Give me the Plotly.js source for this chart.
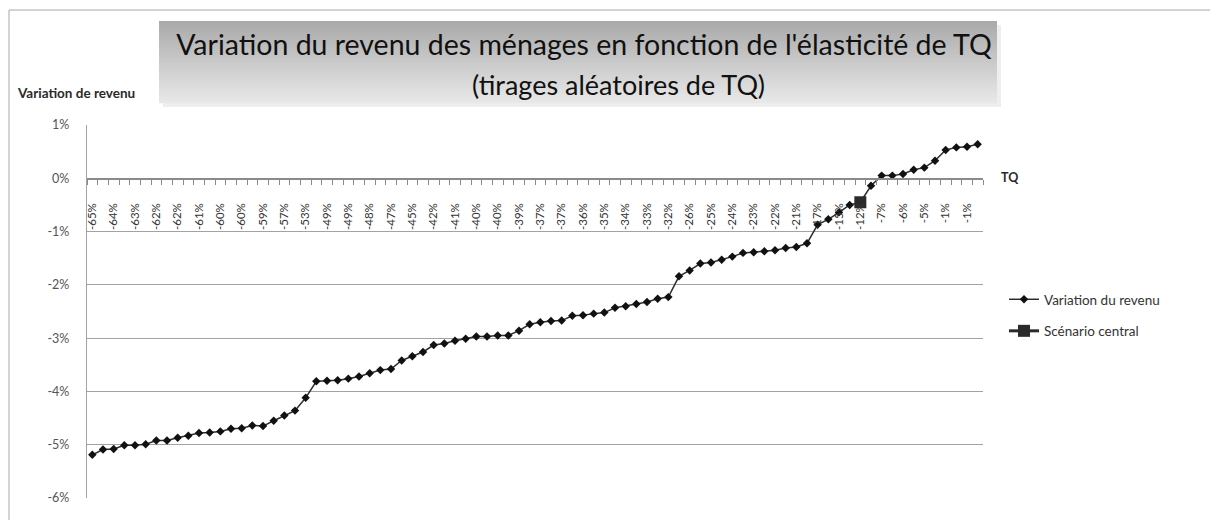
<!DOCTYPE html>
<html><head><meta charset="utf-8">
<script src="https://cdn.plot.ly/plotly-3.0.1.min.js"></script>
<style>html,body{margin:0;padding:0;background:#fff;} #chart{width:1210px;height:520px;}</style>
</head><body><div id="chart"></div>
<script>
// ---- data (values in %) ----
const revenueVariation = [
  -5.19,-5.09,-5.08,-5.01,-5.01,-4.99,-4.92,-4.92,-4.87,-4.83,
  -4.78,-4.77,-4.75,-4.70,-4.69,-4.64,-4.65,-4.55,-4.45,-4.36,
  -4.12,-3.81,-3.80,-3.79,-3.76,-3.72,-3.66,-3.60,-3.58,-3.42,
  -3.34,-3.26,-3.13,-3.10,-3.05,-3.01,-2.97,-2.97,-2.95,-2.95,
  -2.86,-2.74,-2.70,-2.68,-2.67,-2.58,-2.57,-2.54,-2.52,-2.43,
  -2.40,-2.36,-2.32,-2.26,-2.23,-1.84,-1.73,-1.60,-1.58,-1.53,
  -1.47,-1.40,-1.39,-1.37,-1.35,-1.31,-1.29,-1.22,-0.87,-0.77,
  -0.64,-0.50,-0.45,-0.14,0.05,0.05,0.08,0.16,0.20,0.33,
  0.53,0.58,0.59,0.64
];
const tqLabels = [
  '-65%','-64%','-63%','-62%','-62%','-61%','-60%','-60%','-59%','-57%',
  '-53%','-49%','-49%','-48%','-47%','-45%','-42%','-41%','-40%','-40%',
  '-39%','-37%','-37%','-36%','-35%','-34%','-33%','-32%','-26%','-25%',
  '-24%','-23%','-22%','-21%','-17%','-15%','-12%','-7%','-6%','-5%',
  '-1%','-1%'
];
const labelStep = 2;                 // one label every 2 draws
const centralScenarioIndex = [72];
const centralScenarioValue = [-0.45];
const yTickValues = [1, 0, -1, -2, -3, -4, -5, -6];
const yTickText = ['1%', '0%', '-1%', '-2%', '-3%', '-4%', '-5%', '-6%'];

// ---- layout helpers (pixel -> paper) ----
const L = 87, R = 983, T = 125, B = 498;
const PW = R - L, PH = B - T;
const px = x => (x - L) / PW;
const py = y => (B - y) / PH;
const FONT = 'Lato, "Open Sans", sans-serif';

const drawIndex = revenueVariation.map((_, i) => i);
const tickPositions = tqLabels.map((_, k) => k * labelStep);

const traces = [
  {
    x: drawIndex, y: revenueVariation, type: 'scatter', mode: 'lines+markers',
    name: 'Variation du revenu', legendgroup: 'a',
    line: {color: '#2e2e2e', width: 1.5},
    marker: {symbol: 'diamond', size: 6.5, color: '#111111'},
    hoverinfo: 'skip'
  },
  {
    x: centralScenarioIndex, y: centralScenarioValue, type: 'scatter', mode: 'lines+markers',
    name: 'Scénario central', legendgroup: 'b',
    line: {color: '#2a2a2a', width: 3},
    marker: {symbol: 'square', size: 12, color: '#2a2a2a'},
    hoverinfo: 'skip'
  }
];

// chart border, title box shadow and gradient (bands)
const shapes = [];
shapes.push({type: 'rect', xref: 'paper', yref: 'paper', x0: px(9), x1: px(1240), y0: py(560), y1: py(10),
  line: {color: '#a8a8a8', width: 1}, fillcolor: 'rgba(0,0,0,0)', layer: 'below'});
shapes.push({type: 'rect', xref: 'paper', yref: 'paper', x0: px(163), x1: px(1001), y0: py(107), y1: py(25),
  line: {width: 0}, fillcolor: '#eeeeee', layer: 'below'});
const boxTop = 21, boxBot = 103, nb = 41;
for (let k = 0; k < nb; k++) {
  const t = k / (nb - 1);
  const c = Math.round(0xaa + (0xe8 - 0xaa) * t);
  const hex = '#' + c.toString(16).padStart(2, '0').repeat(3);
  const y0 = boxTop + (boxBot - boxTop) * k / nb;
  const y1 = boxTop + (boxBot - boxTop) * (k + 1) / nb;
  shapes.push({type: 'rect', xref: 'paper', yref: 'paper', x0: px(159), x1: px(997),
    y0: py(y1 + 0.3), y1: py(y0), line: {width: 0}, fillcolor: hex, layer: 'below'});
}

const layout = {
  width: 1210, height: 520,
  margin: {l: L, r: 1210 - R, t: T, b: 520 - B, pad: 0},
  paper_bgcolor: '#ffffff', plot_bgcolor: 'rgba(0,0,0,0)',
  font: {family: FONT, color: '#404040'},
  title: {text: "Variation du revenu des ménages en fonction de l'élasticité de TQ",
    font: {family: FONT, size: 28.5, color: '#111111'},
    xref: 'paper', x: px(584), xanchor: 'center', yref: 'container', y: 1 - 45 / 520, yanchor: 'middle'},
  showlegend: true,
  legend: {x: px(1004), y: py(284), xanchor: 'left', yanchor: 'top',
    font: {family: FONT, size: 13.5, color: '#333333'}, bgcolor: 'rgba(0,0,0,0)',
    traceorder: 'grouped', tracegroupgap: 11, itemwidth: 30},
  xaxis: {
    type: 'linear', range: [-0.5, revenueVariation.length - 0.5], fixedrange: true,
    anchor: 'free', position: 6 / 7,
    showgrid: false, zeroline: false,
    showline: true, linecolor: '#8a8a8a', linewidth: 1.3,
    tickmode: 'array', tickvals: tickPositions, ticktext: tqLabels,
    tickangle: -90, ticks: '', ticklabelstandoff: 19,
    tickfont: {family: FONT, size: 11.5, color: '#333333'},
    minor: {ticks: 'outside', tick0: 0.5, dtick: 1, ticklen: 5, tickcolor: '#8a8a8a', tickwidth: 1, showgrid: false}
  },
  yaxis: {
    range: [-6, 1], fixedrange: true,
    tickmode: 'array', tickvals: yTickValues, ticktext: yTickText,
    showgrid: true, gridcolor: '#a3a3a3', gridwidth: 1.2, zeroline: false,
    showline: true, linecolor: '#a3a3a3', linewidth: 1.2,
    ticks: '', ticklabelstandoff: 14,
    tickfont: {family: FONT, size: 12.5, color: '#555555'}
  },
  shapes: shapes,
  annotations: [
    {text: '(tirages aléatoires de TQ)', xref: 'paper', yref: 'paper', x: px(618), y: py(85),
      xanchor: 'center', yanchor: 'middle', showarrow: false,
      font: {family: FONT, size: 27, color: '#111111'}},
    {text: '<b>Variation de revenu</b>', xref: 'paper', yref: 'paper', x: px(15), y: py(93),
      xanchor: 'left', yanchor: 'middle', showarrow: false,
      font: {family: FONT, size: 13.5, color: '#2a2a2a'}},
    {text: '<b>TQ</b>', xref: 'paper', yref: 'paper', x: px(999), y: py(177),
      xanchor: 'left', yanchor: 'middle', showarrow: false,
      font: {family: FONT, size: 12.5, color: '#2a2a2a'}}
  ]
};

Plotly.newPlot('chart', traces, layout, {displayModeBar: false, staticPlot: true});
</script>
</body></html>
